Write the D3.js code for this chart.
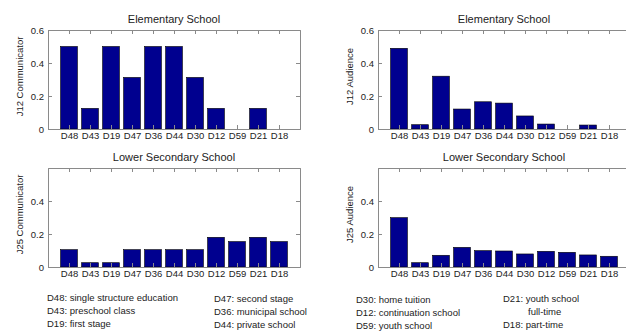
<!DOCTYPE html>
<html>
<head>
<meta charset="utf-8">
<script src="https://cdn.jsdelivr.net/npm/d3@7"></script>
<style>
  body { margin: 0; background: #fff; }
  svg { display: block; font-family: "Liberation Sans", Arial, sans-serif; }
</style>
</head>
<body>
<svg id="chart" width="626" height="331"></svg>
<script>
var categories = ["D48", "D43", "D19", "D47", "D36", "D44", "D30", "D12", "D59", "D21", "D18"];

var j12Communicator = [0.5, 0.125, 0.5, 0.3125, 0.5, 0.5, 0.3125, 0.125, 0, 0.125, 0];
var j12Audience = [0.489, 0.026, 0.32, 0.121, 0.165, 0.157, 0.079, 0.03, 0, 0.024, 0];
var j25Communicator = [0.105, 0.026, 0.026, 0.105, 0.105, 0.105, 0.105, 0.18, 0.154, 0.18, 0.154];
var j25Audience = [0.299, 0.026, 0.071, 0.119, 0.099, 0.097, 0.079, 0.095, 0.089, 0.073, 0.065];

var topTicks = [0, 0.2, 0.4, 0.6];
var bottomTicks = [0, 0.2, 0.4];

var legendLines = [
  {x: 47, y: 301, text: "D48: single structure education"},
  {x: 47, y: 314, text: "D43: preschool class"},
  {x: 47, y: 327, text: "D19: first stage"},
  {x: 214, y: 302, text: "D47: second stage"},
  {x: 214, y: 315, text: "D36: municipal school"},
  {x: 214, y: 328, text: "D44: private school"},
  {x: 356, y: 303, text: "D30: home tuition"},
  {x: 356, y: 316, text: "D12: continuation school"},
  {x: 356, y: 329, text: "D59: youth school"},
  {x: 503, y: 302, text: "D21: youth school"},
  {x: 528, y: 315, text: "full-time"},
  {x: 503, y: 328, text: "D18: part-time"}
];

var svg = d3.select("#chart");
var w = 252, h = 99;

function panel(left, top, title, ylabel, values, ticks) {
  var elt = svg.append("g").attr("transform", "translate(" + left + "," + top + ")");

  var xScale = d3.scaleLinear().domain([0, 12]).range([0, w]);
  var yScale = d3.scaleLinear().domain([0, 0.6]).range([h, 0]);
  var centers = d3.range(1, 12);

  // bars
  elt.selectAll(".bar")
    .data(values)
    .enter().append("rect")
    .attr("class", "bar")
    .attr("x", function(d, i) { return xScale(i + 1 - 0.4); })
    .attr("width", xScale(0.8) - xScale(0))
    .attr("y", function(d) { return yScale(d); })
    .attr("height", function(d) { return h - yScale(d); })
    .style("fill", "#00008f")
    .style("stroke", "#000")
    .style("stroke-width", 0.6)
    .style("display", function(d) { return d > 0 ? null : "none"; });

  var fmt = function(d) { return d === 0 ? "0" : d3.format(".1f")(d); };

  var yAxisG = elt.append("g").call(d3.axisLeft(yScale).tickValues(ticks).tickFormat(fmt).tickSize(-4).tickPadding(4));
  var yRightG = elt.append("g").attr("transform", "translate(" + w + ",0)")
    .call(d3.axisRight(yScale).tickValues(ticks).tickFormat("").tickSize(-4));
  var xAxisG = elt.append("g").attr("transform", "translate(0," + h + ")")
    .call(d3.axisBottom(xScale).tickValues(centers)
      .tickFormat(function(d) { return categories[d - 1]; }).tickSize(-4).tickPadding(4));
  var xTopG = elt.append("g")
    .call(d3.axisTop(xScale).tickValues(centers).tickFormat("").tickSize(-4));

  [yAxisG, yRightG, xAxisG, xTopG].forEach(function(g) {
    g.selectAll(".domain").attr("stroke", "#8a8a8a");
    g.selectAll(".tick line").attr("stroke", "#8a8a8a");
    g.selectAll("text")
      .style("font-size", "9.5px")
      .style("font-family", "'Liberation Sans', Arial, sans-serif")
      .attr("fill", "#222");
  });
  xAxisG.selectAll("text").attr("dy", "0.6em");

  elt.append("text")
    .attr("x", w / 2)
    .attr("y", -7)
    .style("text-anchor", "middle")
    .style("font-size", "11px")
    .attr("fill", "#222")
    .text(title);

  elt.append("text")
    .attr("transform", "translate(-25," + (h / 2 - 3) + ") rotate(-90)")
    .style("text-anchor", "middle")
    .style("font-size", "9.5px")
    .attr("fill", "#222")
    .text(ylabel);
}

panel(48, 30, "Elementary School", "J12 Communicator", j12Communicator, topTicks);
panel(378, 30, "Elementary School", "J12 Audience", j12Audience, topTicks);
panel(48, 168, "Lower Secondary School", "J25 Communicator", j25Communicator, bottomTicks);
panel(378, 168, "Lower Secondary School", "J25 Audience", j25Audience, bottomTicks);

svg.selectAll(".legend")
  .data(legendLines)
  .enter().append("text")
  .attr("class", "legend")
  .attr("x", function(d) { return d.x; })
  .attr("y", function(d) { return d.y; })
  .style("font-size", "9.5px")
  .attr("fill", "#222")
  .text(function(d) { return d.text; });
</script>
</body>
</html>
